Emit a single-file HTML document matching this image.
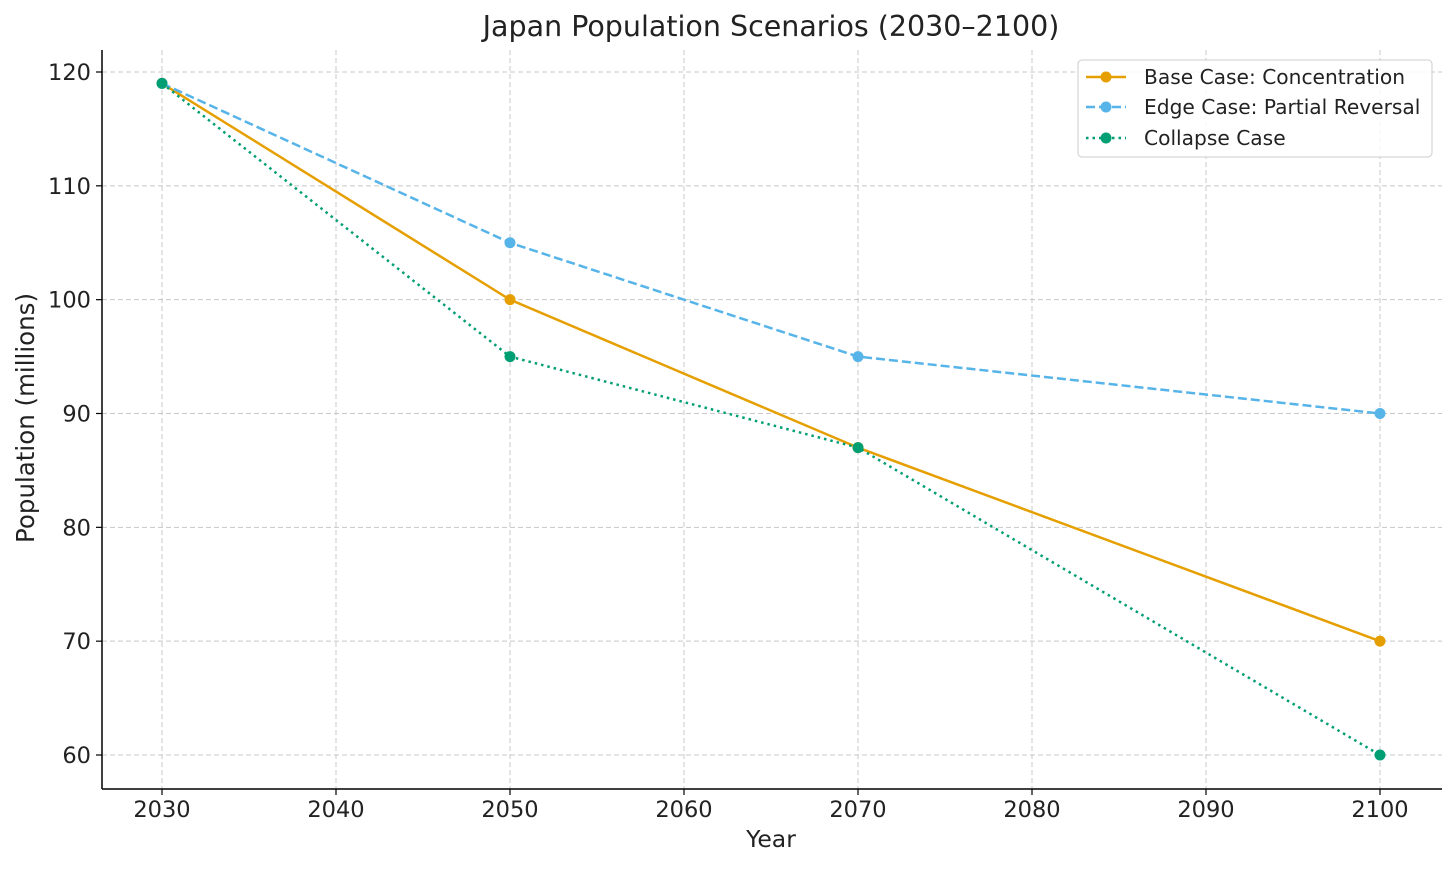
<!DOCTYPE html>
<html><head><meta charset="utf-8"><style>
body{margin:0;background:#fff;}
svg text{font-family:"DejaVu Sans","Liberation Sans",sans-serif;fill:#222;}
</style></head><body>
<svg id="chart" width="1456" height="868" xmlns="http://www.w3.org/2000/svg">
<text x="771" y="36" font-size="28.5" text-anchor="middle">Japan Population Scenarios (2030–2100)</text>
<g id="grid"></g>
<g id="ticks"></g>
<line x1="102" y1="50" x2="102" y2="789" stroke="#000" stroke-width="1.5"/>
<line x1="102" y1="789" x2="1442" y2="789" stroke="#000" stroke-width="1.5"/>
<text x="771" y="847" font-size="23.5" text-anchor="middle">Year</text>
<text x="0" y="0" font-size="24.5" text-anchor="middle" transform="translate(34,418) rotate(-90)">Population (millions)</text>
<g id="series"></g>
<g>
<rect x="1078" y="60" width="354" height="97" rx="4" fill="#fff" fill-opacity="0.85" stroke="#ccc"/>
<line x1="1086" y1="77" x2="1126" y2="77" stroke="#E69F00" stroke-width="2.5"/><circle cx="1106" cy="77" r="5.5" fill="#E69F00"/>
<text x="1144" y="84" font-size="20.2">Base Case: Concentration</text>
<line x1="1086" y1="107" x2="1126" y2="107" stroke="#56B4E9" stroke-width="2.5" stroke-dasharray="9,4"/><circle cx="1106" cy="107" r="5.5" fill="#56B4E9"/>
<text x="1144" y="114" font-size="20.2">Edge Case: Partial Reversal</text>
<line x1="1086" y1="138" x2="1126" y2="138" stroke="#009E73" stroke-width="2.5" stroke-dasharray="2.5,4"/><circle cx="1106" cy="138" r="5.5" fill="#009E73"/>
<text x="1144" y="145" font-size="20.2">Collapse Case</text>
</g>
</svg>
<script>
const years = [2030, 2050, 2070, 2100];
const baseCase = [119, 100, 87, 70];
const edgeCase = [119, 105, 95, 90];
const collapseCase = [119, 95, 87, 60];
const xTicks = [2030, 2040, 2050, 2060, 2070, 2080, 2090, 2100];
const yTicks = [60, 70, 80, 90, 100, 110, 120];

const NS = "http://www.w3.org/2000/svg";
function xs(v){return 162 + (v - 2030) * (1380 - 162) / 70;}
function ys(v){return 755 - (v - 60) * (755 - 72) / 60;}
function mk(tag, attrs, parent){const e=document.createElementNS(NS,tag);for(const k in attrs)e.setAttribute(k,attrs[k]);parent.appendChild(e);return e;}
const grid=document.getElementById('grid'), ticks=document.getElementById('ticks'), series=document.getElementById('series');
xTicks.forEach(t=>{
  const x=xs(t);
  const g=mk('line',{x1:x,y1:50,x2:x,y2:789,stroke:'#c8c8c8','stroke-width':1,'stroke-dasharray':'5,3'},grid);
  
  
  mk('line',{x1:x,y1:789,x2:x,y2:795,stroke:'#000','stroke-width':1.2},ticks);
  const tx=mk('text',{x:x,y:817,'font-size':22.5,'text-anchor':'middle'},ticks);
  tx.textContent=t;
  
  
});
yTicks.forEach(t=>{
  const y=ys(t);
  const g=mk('line',{x1:102,y1:y,x2:1442,y2:y,stroke:'#c8c8c8','stroke-width':1,'stroke-dasharray':'5,3'},grid);
  
  
  mk('line',{x1:96,y1:y,x2:102,y2:y,stroke:'#000','stroke-width':1.2},ticks);
  const tx=mk('text',{x:91,y:y+8,'font-size':22.5,'text-anchor':'end'},ticks);
  tx.textContent=t;
  
  
});
function draw(vals,color,dash,name){
  const pts=vals.map((v,i)=>xs(years[i])+','+ys(v)).join(' ');
  const pl=mk('polyline',{points:pts,fill:'none',stroke:color,'stroke-width':2.5,'stroke-dasharray':dash},series);
  
  
  vals.forEach((v,i)=>{
    const c=mk('circle',{cx:xs(years[i]),cy:ys(v),r:5.5,fill:color},series);
    
    
  });
}
draw(baseCase,'#E69F00','none','base-case');
draw(edgeCase,'#56B4E9','9,4','edge-case');
draw(collapseCase,'#009E73','2.5,4','collapse-case');
</script>
</body></html>
